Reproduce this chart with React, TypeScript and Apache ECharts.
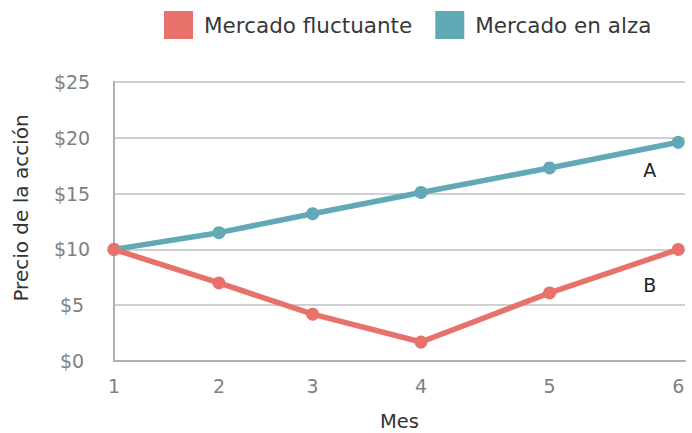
import React, { useEffect, useRef } from "react";
import * as echarts from "echarts";

const months = ["1", "2", "3", "4", "5", "6"];
const monthPositions = [1, 1.93, 2.76, 3.72, 4.86, 6];
const fluctuating = [10, 7, 4.2, 1.7, 6.1, 10];
const rising = [10, 11.5, 13.2, 15.1, 17.3, 19.6];
const seriesNames = ["Mercado fluctuante", "Mercado en alza"];
const endLabels = ["B", "A"];

const RED = "#E8716B";
const BLUE = "#62A9B6";
const FONT = "'DejaVu Sans', 'Open Sans', sans-serif";

export default function App() {
  const ref = useRef<HTMLDivElement>(null);
  useEffect(() => {
    if (!ref.current) return;
    document.body.style.margin = "0";
    const chart = echarts.init(ref.current, undefined, { renderer: "svg" });
    const toPairs = (vals: number[]) => vals.map((v, i) => [monthPositions[i], v]);
    const mkSeries = (name: string, vals: number[], color: string, lbl: string, off: number[]) => ({
      name,
      type: "line",
      data: toPairs(vals).map((p, i) =>
        i === vals.length - 1
          ? {
              value: p,
              label: {
                show: true,
                formatter: lbl,
                position: off,
                align: "center",
                verticalAlign: "middle",
                fontSize: 19,
                color: "#222",
                fontFamily: FONT,
              },
            }
          : { value: p }
      ),
      symbol: "circle",
      symbolSize: 13,
      lineStyle: { color, width: 5.5 },
      itemStyle: { color },
      label: { show: false },
    });
    chart.setOption({
      animation: false,
      textStyle: { fontFamily: FONT },
      legend: {
        data: seriesNames,
        left: 164,
        top: 11,
        padding: 0,
        itemWidth: 29,
        itemHeight: 28,
        itemGap: 23,
        icon: "rect",
        textStyle: { fontSize: 21.5, color: "#383838", fontFamily: FONT, padding: [0, 0, 0, 6] },
      },
      grid: { left: 114, right: 7, top: 82, bottom: 72, containLabel: false, outerBoundsMode: "none" },
      xAxis: {
        type: "value",
        min: 1,
        max: 6.06,
        name: "Mes",
        nameLocation: "middle",
        nameGap: 50,
        nameTextStyle: { fontSize: 19.5, lineHeight: 20, color: "#333", fontFamily: FONT },
        axisLine: { show: true, lineStyle: { color: "#b0b0b0", width: 2 } },
        axisTick: { show: false },
        splitLine: { show: false },
        axisLabel: {
          customValues: monthPositions,
          formatter: (v: number) => {
            let best = 0;
            monthPositions.forEach((p, i) => {
              if (Math.abs(p - v) < Math.abs(monthPositions[best] - v)) best = i;
            });
            return months[best];
          },
          fontSize: 19,
          color: "#808080",
          margin: 15,
          fontFamily: FONT,
        },
      },
      yAxis: {
        type: "value",
        min: 0,
        max: 25,
        interval: 5,
        axisLine: { show: true, lineStyle: { color: "#b0b0b0", width: 2 } },
        axisTick: { show: false },
        splitLine: { show: true, lineStyle: { color: "#c0c0c0", width: 1.5 } },
        axisLabel: {
          formatter: (v: number) => "$" + v,
          fontSize: 19,
          color: "#808080",
          align: "center",
          margin: 42,
          fontFamily: FONT,
        },
      },
      graphic: [
        {
          type: "text",
          x: 21,
          y: 208,
          rotation: Math.PI / 2,
          style: {
            text: "Precio de la acción",
            fontSize: 20,
            fill: "#333",
            align: "center",
            verticalAlign: "middle",
            fontFamily: FONT,
          },
        },
      ],
      series: [
        mkSeries(seriesNames[1], rising, BLUE, endLabels[1], [-22, 34]),
        mkSeries(seriesNames[0], fluctuating, RED, endLabels[0], [-22, 42]),
      ],
    });
    return () => chart.dispose();
  }, []);
  return <div ref={ref} style={{ width: 692, height: 433, background: "#fff" }} />;
}
